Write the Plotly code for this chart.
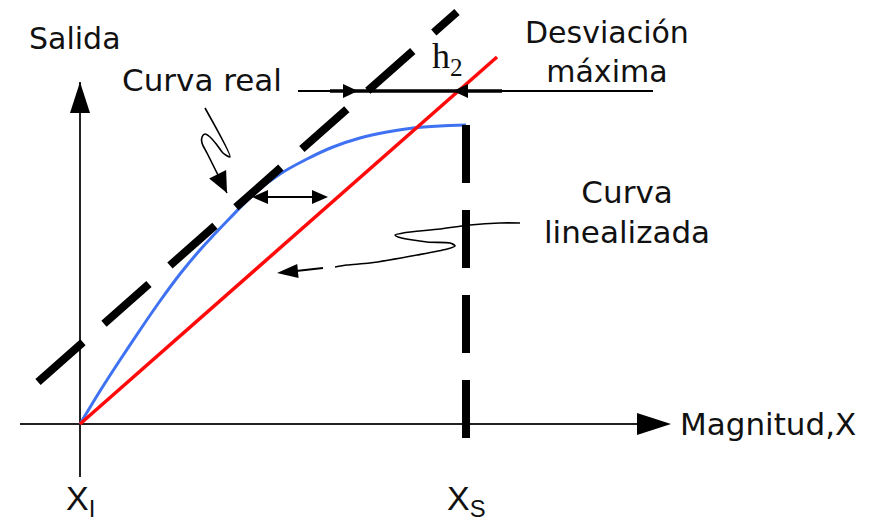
import math
import plotly.graph_objects as go

# Diagram units (1 unit = 1 screen pixel), origin at (X_I, 0)
X_I = 0
X_S = 386

# Linearized curve (red)
lin_x = [0, 417]
lin_y = [0, 367]

# Real curve (blue)
real_x = [0, 20, 40, 60, 80, 100, 120, 150, 175, 200, 227, 253, 280, 307, 333, 360, 386]
real_y = [0, 33, 64, 94, 123, 150, 174, 206, 231, 250, 265, 277, 286, 292, 296, 298, 299]

# Parallel bound line (black dashed)
bound_x = [-42, 377]
bound_y = [42, 412]

# Vertical dashed line at X_S
xs_line_y = [299, -18]

# Maximum deviation marker (h2)
dev_y = 333
dev_line_x = [218, 573]
dev_thick_x = [250, 422]
dev_tip_bound = 278
dev_tip_lin = 373

# Deviation double arrow
h_y = 227
h_x = [172, 248]

# Pointer squiggles
real_ptr_x = [125, 150, 143, 137, 130, 125, 122, 122, 127, 133, 138]
real_ptr_y = [316, 267, 271, 279, 287, 290, 287, 281, 271, 259, 249]
real_ptr_tip = (147, 231)

lin_ptr_x = [440, 420, 390, 360, 323, 315, 318, 347, 370, 375, 367, 337, 290, 267, 255]
lin_ptr_y = [201, 201, 199, 195, 191, 189, 187, 182, 181, 178, 175, 169, 161, 159, 157]
lin_ptr2_x = [243, 218]
lin_ptr2_y = [156, 153]
lin_ptr_tip = (197, 151)

# Coordinate axes
xaxis_x = [-60, 557]
yaxis_y = [-53, 342]

W, H = 887, 528
X_RANGE = [-80, 807]
Y_RANGE = [-104, 424]

FONT = "DejaVu Sans"
BLACK = "#000000"


def tri(tip, direction, length, width):
    tx, ty = tip
    dx, dy = direction
    n = math.hypot(dx, dy)
    ux, uy = dx / n, dy / n
    bx, by = tx - ux * length, ty - uy * length
    px, py = -uy, ux
    w = width / 2
    return (f"M{tx},{ty} L{bx + px * w},{by + py * w} "
            f"L{bx - px * w},{by - py * w} Z")


fig = go.Figure()


def line(x, y, color=BLACK, width=2, dash=None, shape="linear"):
    fig.add_trace(go.Scatter(
        x=x, y=y, mode="lines", hoverinfo="skip",
        line=dict(color=color, width=width, dash=dash, shape=shape, smoothing=0.8),
    ))


shapes = []


def head(tip, direction, length, width, color=BLACK):
    shapes.append(dict(type="path", xref="x", yref="y",
                       path=tri(tip, direction, length, width),
                       fillcolor=color, line=dict(width=0)))


# axes
line(xaxis_x, [0, 0], color="#222222", width=2)
head((xaxis_x[1] + 34, 0), (1, 0), 34, 22)
line([0, 0], yaxis_y, color="#222222", width=2)
head((0, yaxis_y[1] + 0), (0, 1), 31, 20)

# curves
line(real_x, real_y, color="#3f72f2", width=3, shape="spline")
line(lin_x, lin_y, color="#ff0a0a", width=3.5)
line(bound_x, bound_y, color=BLACK, width=8, dash="60px,28px")
line([X_S, X_S], xs_line_y, color=BLACK, width=8, dash="58px,27px")

# max deviation line with arrows
line(dev_line_x, [dev_y, dev_y], width=1.8)
line(dev_thick_x, [dev_y, dev_y], width=3.5)
head((dev_tip_bound, dev_y), (1, 0), 15, 14)
head((dev_tip_lin, dev_y), (-1, 0), 15, 14)

# double arrow
line([h_x[0] + 14, h_x[1] - 14], [h_y, h_y], width=2)
head((h_x[0], h_y), (-1, 0), 16, 14)
head((h_x[1], h_y), (1, 0), 16, 14)

# pointers
line(real_ptr_x, real_ptr_y, width=1.6, shape="spline")
line([real_ptr_x[-1], real_ptr_tip[0]], [real_ptr_y[-1], real_ptr_tip[1]], width=1.6)
head(real_ptr_tip, (real_ptr_tip[0] - real_ptr_x[-1], real_ptr_tip[1] - real_ptr_y[-1]), 21, 19)

line(lin_ptr_x, lin_ptr_y, width=1.6, shape="spline")
line(lin_ptr2_x + [lin_ptr_tip[0] + 10], lin_ptr2_y + [lin_ptr_tip[1] + 1], width=1.8)
head(lin_ptr_tip, (lin_ptr_tip[0] - lin_ptr2_x[-1], lin_ptr_tip[1] - lin_ptr2_y[-1]), 21, 14)

annotations = []


def text(x, y, s, size=28, family=FONT, xanchor="left", yanchor="middle", align="left"):
    annotations.append(dict(x=x, y=y, xref="x", yref="y", text=s, showarrow=False,
                            xanchor=xanchor, yanchor=yanchor, align=align,
                            font=dict(family=family, size=size, color="#111111")))


text(-53, 386, "Salida", size=30)
text(40, 344, "Curva real", size=31)
text(527, 372, "Desviación<br>máxima", size=30, xanchor="center", align="center")
text(547, 212, "Curva<br>linealizada", size=31, xanchor="center", align="center")
text(598, 0, "Magnitud,X", size=31)
NARROW = "Liberation Sans Narrow, Liberation Sans, sans-serif"
text(X_I, -76, "X<sub>I</sub>", size=34, family=NARROW, xanchor="center")
text(X_S, -76, "X<sub>S</sub>", size=34, family=NARROW, xanchor="center")
text(350, 366, "h<sub>2</sub>", size=36, family="Liberation Serif")

fig.update_layout(
    width=W, height=H,
    margin=dict(l=0, r=0, t=0, b=0),
    paper_bgcolor="white", plot_bgcolor="white",
    showlegend=False,
    xaxis=dict(range=X_RANGE, visible=False, fixedrange=True),
    yaxis=dict(range=Y_RANGE, visible=False, fixedrange=True),
    shapes=shapes,
    annotations=annotations,
)

fig.write_html("out.html", config={"displayModeBar": False},
               post_script="document.body.style.margin='0';document.body.style.overflow='hidden';")
